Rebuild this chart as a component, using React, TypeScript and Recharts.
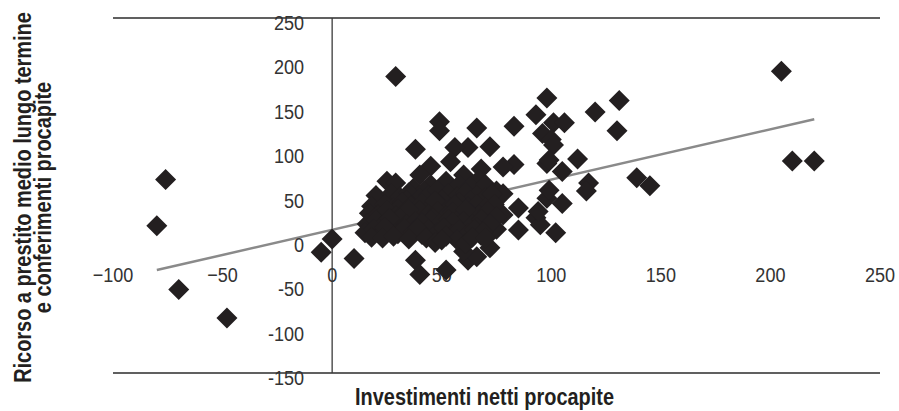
import {
  ScatterChart,
  Scatter,
  XAxis,
  YAxis,
  CartesianGrid,
  ReferenceLine,
} from "recharts";

// x = investimenti netti procapite, y = ricorso a prestito m/l termine e conferimenti procapite
const comuni: [number, number][] = [
  // far from the main group
  [-80, 16], [-76, 68], [-70, -56], [-48, -88], [0, 1], [-5, -14], [10, -21],
  [29, 184], [38, -23], [40, -39], [52, -34], [62, -23], [66, -19], [60, -13], [72, -9],
  [205, 190], [210, 89], [220, 89], [145, 61], [139, 70], [131, 157], [130, 123],
  [120, 144], [112, 91], [117, 64], [116, 55],
  [98, 160], [93, 141], [101, 132], [106, 132], [96, 120], [100, 113], [101, 107],
  [83, 128], [66, 126], [72, 105], [62, 104], [56, 104], [49, 133], [49, 123], [38, 102],
  [83, 85], [78, 82], [68, 80], [98, 86], [99, 90], [105, 77],
  [85, 36], [85, 11], [93, 25], [95, 17], [102, 8], [98, 47], [105, 41], [99, 56], [94, 32],
  [45, 83], [40, 73], [54, 88], [60, 73], [67, 68], [75, 55], [25, 66], [29, 64], [22, 45],
  [76, 30], [74, 45], [78, 52], [70, 20], [75, 12], [68, 5], [78, 28],
  // main group
  [45, 62], [52, 66], [58, 62], [63, 60], [70, 62], [37, 58], [42, 55],
  [20, 50], [27, 52], [31, 48], [35, 53], [40, 47], [44, 50], [48, 56], [53, 52],
  [57, 48], [61, 53], [66, 50], [70, 48], [73, 52], [34, 44], [50, 45], [63, 44],
  [18, 38], [24, 40], [28, 36], [32, 42], [36, 38], [41, 41], [45, 37], [49, 40],
  [54, 36], [58, 42], [62, 37], [66, 40], [70, 36], [74, 40], [30, 35], [47, 44], [56, 39],
  [17, 30], [21, 28], [25, 33], [29, 27], [33, 31], [37, 26], [40, 33], [44, 29],
  [48, 32], [52, 27], [55, 31], [59, 26], [63, 30], [67, 28], [71, 32], [75, 26],
  [35, 34], [46, 25], [61, 34],
  [16, 18], [20, 22], [23, 16], [27, 20], [31, 24], [34, 17], [38, 21], [42, 15],
  [45, 22], [49, 18], [53, 23], [57, 16], [60, 21], [64, 17], [68, 23], [72, 18],
  [26, 24], [41, 19], [55, 20], [66, 14],
  [15, 8], [19, 12], [22, 6], [26, 10], [30, 7], [33, 13], [37, 9], [41, 6],
  [44, 12], [48, 8], [51, 13], [55, 6], [58, 11], [62, 7], [65, 12], [69, 9],
  [24, 14], [39, 13], [52, 4],
  [18, 3], [23, 2], [28, 4], [35, 1], [43, 2], [47, -3], [57, 0], [61, -4], [64, 3],
  [70, 2], [50, 0],
];

// linear trend, start and end
const trendLine = [
  { x: -80, y: -34 },
  { x: 220, y: 136 },
];

const xTicks = [-100, -50, 0, 50, 100, 150, 200, 250];
const yTicks = [-150, -100, -50, 0, 50, 100, 150, 200, 250];

const INK = "#231f20";
const FONT = "'Liberation Sans', Arial, sans-serif";
// condensed look: squeeze the glyphs horizontally
const NUM_SQUEEZE = 0.86;
const TITLE_SQUEEZE = 0.83;

const numStyle = { fontFamily: FONT, fontSize: 21, fill: "#333" };
const titleStyle = { fontFamily: FONT, fontSize: 24, fontWeight: 700, fill: INK };

const points = comuni.map(([x, y]) => ({ x, y }));
const xTickData = xTicks.map((v) => ({ x: v, y: 0 }));
const yTickData = yTicks.map((v) => ({ x: 0, y: v }));

const Diamond = (props: any) => {
  const { cx, cy } = props;
  const r = 10.5;
  return (
    <path
      d={`M${cx},${cy - r}L${cx + r},${cy}L${cx},${cy + r}L${cx - r},${cy}Z`}
      fill={INK}
    />
  );
};

// x labels sit below the zero line, with a true minus sign
const XTickLabel = (props: any) => {
  const v = props.payload.x;
  return (
    <text
      transform={`translate(${props.cx}, ${props.cy + 42}) scale(${NUM_SQUEEZE}, 1)`}
      textAnchor="middle"
      style={numStyle}
    >
      {v < 0 ? `\u2212${Math.abs(v)}` : v}
    </text>
  );
};

// y labels sit left of the vertical zero line
const YTickLabel = (props: any) => (
  <text
    transform={`translate(${props.cx - 28}, ${props.cy + 12}) scale(${NUM_SQUEEZE}, 1)`}
    textAnchor="end"
    style={numStyle}
  >
    {props.payload.y}
  </text>
);

const YTitle = (props: any) => {
  const { viewBox } = props;
  const cx = viewBox.x + 23;
  const cy = viewBox.y + viewBox.height / 2 + 2;
  return (
    <text
      transform={`translate(${cx}, ${cy}) rotate(-90) scale(${TITLE_SQUEEZE}, 1)`}
      textAnchor="middle"
      style={titleStyle}
    >
      <tspan x={0} y={0}>Ricorso a prestito medio lungo termine</tspan>
      <tspan x={0} y={20}>e conferimenti procapite</tspan>
    </text>
  );
};

const XTitle = (props: any) => {
  const { viewBox } = props;
  const x = viewBox.x + viewBox.width / 2 - 12;
  const y = viewBox.y + 32;
  return (
    <text
      transform={`translate(${x}, ${y}) scale(${TITLE_SQUEEZE}, 1)`}
      textAnchor="middle"
      style={titleStyle}
    >
      Investimenti netti procapite
    </text>
  );
};

export default function App() {
  return (
    <>
      {/* the chart fills the window exactly, so nothing scrolls */}
      <style>{"body { margin: 0; }"}</style>
      <div style={{ padding: "8px 0 0 8px" }}>
        <ScatterChart
          width={891}
          height={403}
          margin={{ top: 10, right: 19, bottom: 0, left: 0 }}
        >
          <CartesianGrid vertical={false} stroke="#2b2b2b" strokeWidth={1.3} />
          <XAxis
            type="number"
            dataKey="x"
            domain={[-100, 250]}
            ticks={xTicks}
            tick={false}
            tickLine={false}
            axisLine={false}
            height={38}
            label={XTitle}
          />
          <YAxis
            type="number"
            dataKey="y"
            domain={[-150, 250]}
            ticks={yTicks}
            tick={false}
            tickLine={false}
            axisLine={false}
            width={105}
            label={YTitle}
          />
          <ReferenceLine x={0} stroke="#3a3a3a" strokeWidth={1.3} />
          <ReferenceLine segment={trendLine} stroke="#8a8a8a" strokeWidth={2.5} />
          <Scatter data={xTickData} shape={XTickLabel} isAnimationActive={false} legendType="none" />
          <Scatter data={yTickData} shape={YTickLabel} isAnimationActive={false} legendType="none" />
          <Scatter data={points} shape={Diamond} isAnimationActive={false} legendType="none" />
        </ScatterChart>
      </div>
    </>
  );
}
